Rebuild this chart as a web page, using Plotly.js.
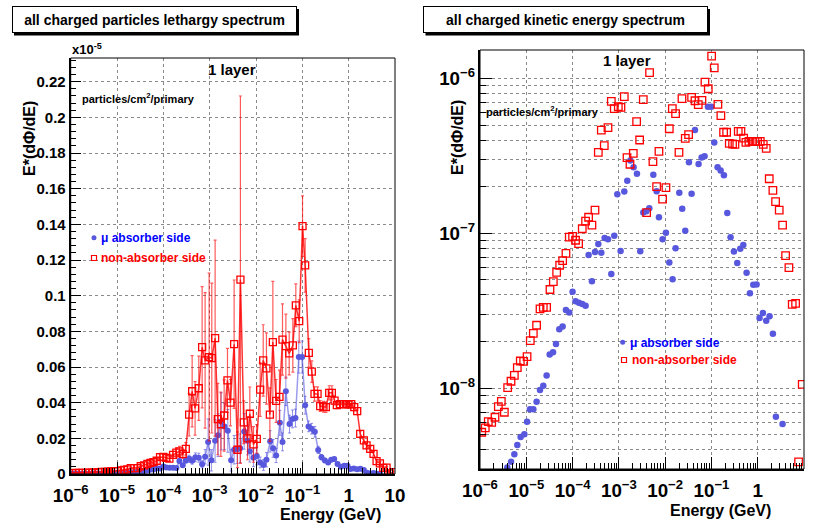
<!DOCTYPE html>
<html><head><meta charset="utf-8">
<script src="https://cdn.plot.ly/plotly-3.0.1.min.js"></script>
<style>html,body{margin:0;padding:0;background:#fff;}#chart{width:813px;height:525px;}</style>
</head><body><div id="chart"></div>
<script>
// ---- data (energy in GeV, flux in particles/cm^2/primary) ----
const redEnergy = [
1.09e-6,1.30e-6,1.51e-6,1.79e-6,2.11e-6,2.49e-6,2.89e-6,3.36e-6,3.96e-6,4.68e-6,
5.52e-6,6.40e-6,7.43e-6,8.77e-6,1.04e-5,1.22e-5,1.42e-5,1.67e-5,1.98e-5,2.33e-5,
2.75e-5,3.25e-5,3.84e-5,4.53e-5,5.26e-5,6.10e-5,7.19e-5,8.49e-5,1.00e-4,1.16e-4,
1.35e-4,1.62e-4,1.91e-4,2.22e-4,2.62e-4,3.05e-4,3.60e-4,4.18e-4,4.84e-4,5.82e-4,
6.87e-4,7.96e-4,9.73e-4,1.11e-3,1.31e-3,1.50e-3,1.74e-3,2.05e-3,2.42e-3,2.81e-3,
3.37e-3,3.98e-3,4.61e-3,5.45e-3,6.55e-3,7.35e-3,8.81e-3,1.04e-2,1.23e-2,1.43e-2,
1.68e-2,1.99e-2,2.31e-2,2.72e-2,3.21e-2,3.73e-2,4.41e-2,5.20e-2,6.24e-2,7.24e-2,
8.55e-2,0.101,0.115,0.138,0.160,0.183,0.213,0.243,0.286,0.322,
0.380,0.434,0.496,0.556,0.646,0.762,0.871,0.993,1.135,1.318,
1.528,1.774,2.128,2.432,2.917,3.443,4.000,4.721,5.572,6.577,
7.638,9.162];
const redFlux = [
5.20e-9,5.55e-9,6.09e-9,6.03e-9,6.50e-9,7.62e-9,8.24e-9,7.00e-9,1.01e-8,1.11e-8,
1.21e-8,1.36e-8,1.50e-8,1.49e-8,1.60e-8,2.03e-8,2.26e-8,2.55e-8,3.25e-8,3.33e-8,
3.33e-8,4.34e-8,4.88e-8,5.60e-8,6.22e-8,6.67e-8,7.43e-8,9.46e-8,9.55e-8,9.02e-8,
8.57e-8,1.07e-7,1.20e-7,1.27e-7,1.13e-7,1.41e-7,3.33e-7,4.64e-7,3.68e-7,4.81e-7,
7.11e-7,6.37e-7,6.56e-7,6.50e-7,7.62e-7,3.08e-7,2.79e-7,3.28e-7,5.25e-7,4.00e-7,
7.28e-7,1.36e-7,1.09e-6,2.90e-7,2.00e-7,3.38e-7,1.66e-7,1.97e-7,4.73e-7,6.37e-7,
5.92e-7,3.33e-7,7.40e-7,4.10e-7,4.33e-7,7.54e-7,7.17e-7,6.76e-7,7.21e-7,9.46e-7,
8.57e-7,1.39e-6,1.17e-6,6.79e-7,5.74e-7,4.49e-7,4.49e-7,3.81e-7,3.77e-7,3.75e-7,
4.55e-7,4.55e-7,4.12e-7,3.86e-7,3.92e-7,3.92e-7,3.92e-7,3.90e-7,3.92e-7,3.75e-7,
3.53e-7,2.25e-7,1.89e-7,1.60e-7,1.41e-7,1.13e-7,7.18e-8,6.00e-8,3.48e-8,3.53e-8,
3.35e-9,1.06e-8];
const redErr = [
6e-10,6e-10,7e-10,7e-10,8e-10,9e-10,1.0e-9,1.0e-9,1.3e-9,1.4e-9,
1.6e-9,1.8e-9,2.0e-9,2.0e-9,2.2e-9,2.8e-9,3.0e-9,3.5e-9,4.5e-9,4.5e-9,
5e-9,6e-9,7e-9,8e-9,9e-9,1.0e-8,1.1e-8,1.5e-8,1.6e-8,1.5e-8,
1.5e-8,2.0e-8,2.5e-8,2.8e-8,2.5e-8,3.5e-8,1.2e-7,2.0e-7,1.5e-7,1.8e-7,
3.4e-7,3.8e-7,4.7e-7,4.2e-7,5.5e-7,2.0e-7,1.8e-7,2.0e-7,1.8e-7,1.3e-7,
3.6e-7,1.0e-7,1.03e-6,1.2e-7,1.2e-7,1.5e-7,1.0e-7,8e-8,1.5e-7,2.0e-7,
2.0e-7,1.5e-7,3.4e-7,1.2e-7,1.5e-7,2.0e-7,1.8e-7,1.2e-7,1.5e-7,1.2e-7,
1.2e-7,1.7e-7,1.5e-7,8e-8,6e-8,4e-8,4e-8,3e-8,3e-8,3e-8,
4e-8,4e-8,2.5e-8,2e-8,2e-8,2e-8,2e-8,2e-8,2e-8,2e-8,
2e-8,1.5e-8,1.5e-8,1.5e-8,1.3e-8,1.2e-8,1e-8,1e-8,8e-9,8e-9,
4e-9,5e-9];

const blueEnergy = [
1.09e-6,1.30e-6,1.51e-6,1.79e-6,2.11e-6,2.49e-6,2.89e-6,3.36e-6,
3.89e-6,4.68e-6,5.52e-6,6.40e-6,7.55e-6,9.08e-6,1.04e-5,1.20e-5,1.42e-5,1.67e-5,
1.98e-5,2.33e-5,2.75e-5,3.20e-5,3.78e-5,4.38e-5,5.16e-5,6.10e-5,7.19e-5,8.49e-5,
1.00e-4,1.16e-4,1.37e-4,1.62e-4,1.91e-4,2.22e-4,2.62e-4,3.05e-4,3.60e-4,4.18e-4,
4.93e-4,5.82e-4,6.87e-4,7.96e-4,9.25e-4,1.09e-3,1.31e-3,1.52e-3,1.77e-3,2.08e-3,
2.46e-3,2.90e-3,3.37e-3,3.92e-3,4.54e-3,5.55e-3,6.55e-3,7.35e-3,8.81e-3,1.04e-2,
1.23e-2,1.45e-2,1.68e-2,2.02e-2,2.34e-2,2.72e-2,3.27e-2,3.73e-2,4.41e-2,5.28e-2,
6.14e-2,7.11e-2,8.39e-2,9.91e-2,0.115,0.136,0.158,0.186,0.220,0.259,
0.306,0.361,0.420,0.488,0.575,0.679,0.802,0.946,1.096,1.294,
1.528,1.803,2.128,2.472,2.917,3.443,4.064,4.80];
const blueFlux = [
1.2e-9,1.3e-9,1.45e-9,1.6e-9,1.8e-9,2.0e-9,2.3e-9,2.7e-9,
3.08e-9,3.35e-9,3.75e-9,4.31e-9,4.85e-9,5.05e-9,6.09e-9,7.32e-9,7.32e-9,8.17e-9,
9.75e-9,1.04e-8,1.21e-8,1.65e-8,1.71e-8,1.93e-8,2.40e-8,2.50e-8,3.20e-8,3.08e-8,
4.19e-8,3.64e-8,3.57e-8,3.50e-8,3.41e-8,7.24e-8,4.90e-8,7.58e-8,8.53e-8,7.50e-8,
9.33e-8,9.14e-8,5.47e-8,9.66e-8,1.79e-7,7.69e-8,1.86e-7,2.18e-7,2.95e-7,2.67e-7,
2.42e-7,7.66e-8,1.36e-7,1.39e-7,1.45e-7,2.39e-7,1.87e-7,1.27e-7,9.14e-8,1.01e-7,
6.47e-8,5.05e-8,8.0e-8,1.83e-7,1.44e-7,1.04e-7,2.87e-7,1.80e-7,4.64e-7,2.80e-7,
3.09e-7,3.14e-7,6.56e-7,6.56e-7,3.86e-7,2.67e-7,2.54e-7,2.37e-7,1.35e-7,9.42e-8,
7.62e-8,6.44e-8,7.96e-8,8.41e-8,5.57e-8,4.10e-8,4.65e-8,4.67e-8,2.84e-8,3.06e-8,
2.73e-8,2.92e-8,2.25e-8,6.56e-9,2.5e-9,5.89e-9,2.0e-9,1.2e-9];
const blueErr = [
2e-10,2e-10,2e-10,2e-10,3e-10,3e-10,3e-10,3e-10,
4e-10,4e-10,5e-10,5e-10,6e-10,6e-10,7e-10,8e-10,8e-10,9e-10,
1.0e-9,1.1e-9,1.3e-9,1.6e-9,1.7e-9,1.9e-9,2.3e-9,2.4e-9,3.0e-9,3.0e-9,
4e-9,4e-9,4e-9,4e-9,4e-9,1.5e-8,1.0e-8,1.5e-8,2.0e-8,2.0e-8,
2.5e-8,2.5e-8,2.0e-8,4e-8,1.3e-7,6e-8,1.2e-7,1.2e-7,1.6e-7,1.3e-7,
1.2e-7,6e-8,8e-8,8e-8,8e-8,1.0e-7,8e-8,6e-8,5e-8,5e-8,
3e-8,3e-8,4e-8,6e-8,5e-8,4e-8,7e-8,5e-8,8e-8,5e-8,
5e-8,5e-8,9e-8,9e-8,5e-8,3e-8,3e-8,3e-8,2e-8,1.5e-8,
1.2e-8,1e-8,1e-8,1e-8,8e-9,6e-9,6e-9,6e-9,4e-9,4e-9,
4e-9,4e-9,3e-9,2e-9,1e-9,2e-9,1e-9,1e-9];

const leftTitle = 'all charged particles lethargy spectrum';
const rightTitle = 'all charged kinetic energy spectrum';
const yTitle = 'E*(d\u03A6/dE)';
const xTitle = 'Energy (GeV)';
const seriesNames = ['\u03BC absorber side', 'non-absorber side'];
const leftScale = 1e5; // left panel drawn in units of 10^-5

// ---- helpers ----
const W = 813, H = 525;
const px = x => x / W, py = y => 1 - y / H;
const FONT = 'Liberation Sans, Arial, Helvetica, sans-serif';
const RED = '#ff0000', BLUE = 'rgb(88,88,222)';
const GRID = '#8a8a8a';
const sc = a => a.map(v => v * leftScale);

const traces = [
  {x: blueEnergy, y: sc(blueFlux), xaxis: 'x', yaxis: 'y', mode: 'lines+markers',
   error_y: {type: 'data', array: sc(blueErr), visible: true, color: 'rgba(88,88,222,0.65)', thickness: 1, width: 1.5},
   line: {color: 'rgba(88,88,222,0.6)', width: 1.5},
   marker: {symbol: 'circle', size: 6, color: BLUE}, showlegend: false, hoverinfo: 'skip'},
  {x: redEnergy, y: sc(redFlux), xaxis: 'x', yaxis: 'y', mode: 'lines+markers',
   error_y: {type: 'data', array: sc(redErr), visible: true, color: 'rgba(255,0,0,0.65)', thickness: 1.2, width: 1.5},
   line: {color: 'rgba(255,0,0,0.8)', width: 1.5},
   marker: {symbol: 'square-open', size: 7, color: RED, line: {width: 1.3}}, showlegend: false, hoverinfo: 'skip'},
  {x: blueEnergy, y: blueFlux, xaxis: 'x2', yaxis: 'y2', mode: 'markers',
   marker: {symbol: 'circle', size: 6.5, color: BLUE}, showlegend: false, hoverinfo: 'skip'},
  {x: redEnergy, y: redFlux, xaxis: 'x2', yaxis: 'y2', mode: 'markers',
   marker: {symbol: 'square-open', size: 7.5, color: RED, line: {width: 1.3}}, showlegend: false, hoverinfo: 'skip'}
];

const tickfont = {family: FONT, size: 15, color: '#000', weight: 'bold'};
function xAxis(domain, anchor) {
  return {domain, anchor, type: 'log', range: [-6, 1], dtick: 1, exponentformat: 'power',
    showgrid: true, gridcolor: GRID, griddash: 'dot', gridwidth: 1,
    ticks: 'inside', ticklen: 12, tickwidth: 1, tickcolor: '#000',
    minor: {ticks: 'inside', ticklen: 6, tickwidth: 1, tickcolor: '#000', showgrid: false},
    showline: true, linecolor: '#000', linewidth: 2, zeroline: false,
    tickfont, ticklabelstandoff: 4, fixedrange: true};
}
const layout = {
  width: W, height: H, margin: {l: 0, r: 0, t: 0, b: 0},
  paper_bgcolor: '#fff', plot_bgcolor: '#fff', showlegend: false,
  xaxis: xAxis([px(70.7), px(395)], 'y'),
  yaxis: {domain: [py(474), py(58)], anchor: 'x', range: [0, 0.2333], dtick: 0.02, tick0: 0,
    showgrid: true, gridcolor: GRID, griddash: 'dot', gridwidth: 1,
    ticks: 'inside', ticklen: 10, tickwidth: 1, tickcolor: '#000',
    minor: {dtick: 0.004, ticks: 'inside', ticklen: 5, tickwidth: 1, tickcolor: '#000', showgrid: false},
    showline: true, linecolor: '#000', linewidth: 2, zeroline: false, tickfont, fixedrange: true},
  xaxis2: xAxis([px(480), px(804)], 'y2'),
  yaxis2: {domain: [py(469), py(50)], anchor: 'x2', type: 'log', range: [-8.521, -5.817], dtick: 1,
    exponentformat: 'power', showgrid: true, gridcolor: GRID, griddash: 'dot', gridwidth: 1,
    ticks: 'inside', ticklen: 12, tickwidth: 1, tickcolor: '#000',
    minor: {ticks: 'inside', ticklen: 6, tickwidth: 1, tickcolor: '#000', showgrid: true, gridcolor: GRID, griddash: 'dot', gridwidth: 1},
    showline: true, linecolor: '#000', linewidth: 2, zeroline: false, tickfont, fixedrange: true},
  shapes: [
    {type: 'rect', xref: 'x domain', yref: 'y domain', x0: 0, x1: 1, y0: 0, y1: 1, line: {color: '#000', width: 1}},
    {type: 'rect', xref: 'x2 domain', yref: 'y2 domain', x0: 0, x1: 1, y0: 0, y1: 1, line: {color: '#000', width: 1}},
    // title box shadows
    {type: 'rect', xref: 'paper', yref: 'paper', x0: px(14), x1: px(299), y0: py(35.5), y1: py(9), fillcolor: '#000', line: {width: 0}, layer: 'below'},
    {type: 'rect', xref: 'paper', yref: 'paper', x0: px(425.5), x1: px(710), y0: py(35.5), y1: py(9), fillcolor: '#000', line: {width: 0}, layer: 'below'},
    // legend markers
    {type: 'circle', xref: 'paper', yref: 'paper', x0: px(91.5), x1: px(96.5), y0: py(240.2), y1: py(235.2), fillcolor: BLUE, line: {color: BLUE, width: 0}},
    {type: 'rect', xref: 'paper', yref: 'paper', x0: px(91.5), x1: px(96.5), y0: py(260.5), y1: py(255.5), line: {color: RED, width: 1.2}},
    {type: 'circle', xref: 'paper', yref: 'paper', x0: px(620.2), x1: px(625.2), y0: py(344.8), y1: py(339.8), fillcolor: BLUE, line: {color: BLUE, width: 0}},
    {type: 'rect', xref: 'paper', yref: 'paper', x0: px(621.5), x1: px(626.5), y0: py(362.5), y1: py(357.5), line: {color: RED, width: 1.2}}
  ],
  annotations: [
    {text: leftTitle, xref: 'paper', yref: 'paper', x: px(154.5), y: py(20), xanchor: 'center', yanchor: 'middle',
     showarrow: false, font: {family: FONT, size: 14, color: '#000', weight: 'bold'},
     bgcolor: '#fff', bordercolor: '#000', borderwidth: 1, borderpad: 0, width: 283, height: 25},
    {text: rightTitle, xref: 'paper', yref: 'paper', x: px(565.5), y: py(20), xanchor: 'center', yanchor: 'middle',
     showarrow: false, font: {family: FONT, size: 14, color: '#000', weight: 'bold'},
     bgcolor: '#fff', bordercolor: '#000', borderwidth: 1, borderpad: 0, width: 283, height: 25},
    {text: '1 layer', xref: 'paper', yref: 'paper', x: px(232), y: py(70), xanchor: 'center', yanchor: 'middle', showarrow: false, font: {family: FONT, size: 15, color: '#000', weight: 'bold'}},
    {text: '1 layer', xref: 'paper', yref: 'paper', x: px(627), y: py(60), xanchor: 'center', yanchor: 'middle', showarrow: false, font: {family: FONT, size: 15, color: '#000', weight: 'bold'}},
    {text: 'particles/cm<sup>2</sup>/primary', xref: 'paper', yref: 'paper', x: px(80), y: py(98), xanchor: 'left', yanchor: 'middle', showarrow: false, font: {family: FONT, size: 11, color: '#000', weight: 'bold'}},
    {text: 'particles/cm<sup>2</sup>/primary', xref: 'paper', yref: 'paper', x: px(484), y: py(111), xanchor: 'left', yanchor: 'middle', showarrow: false, font: {family: FONT, size: 11, color: '#000', weight: 'bold'}},
    {text: 'x10<sup>-5</sup>', xref: 'paper', yref: 'paper', x: px(70), y: py(49), xanchor: 'left', yanchor: 'middle', showarrow: false, font: {family: FONT, size: 13, color: '#000', weight: 'bold'}},
    {text: yTitle, xref: 'paper', yref: 'paper', x: px(29), y: py(139), xanchor: 'center', yanchor: 'middle', textangle: -90, showarrow: false, font: {family: FONT, size: 16, color: '#000', weight: 'bold'}},
    {text: yTitle, xref: 'paper', yref: 'paper', x: px(457), y: py(138), xanchor: 'center', yanchor: 'middle', textangle: -90, showarrow: false, font: {family: FONT, size: 16, color: '#000', weight: 'bold'}},
    {text: xTitle, xref: 'paper', yref: 'paper', x: px(383), y: py(514), xanchor: 'right', yanchor: 'middle', showarrow: false, font: {family: FONT, size: 16, color: '#000', weight: 'bold'}},
    {text: xTitle, xref: 'paper', yref: 'paper', x: px(773), y: py(510), xanchor: 'right', yanchor: 'middle', showarrow: false, font: {family: FONT, size: 16, color: '#000', weight: 'bold'}},
    {text: seriesNames[0], xref: 'paper', yref: 'paper', x: px(99), y: py(238), xanchor: 'left', yanchor: 'middle', showarrow: false, font: {family: FONT, size: 12, color: '#0000ff', weight: 'bold'}},
    {text: seriesNames[1], xref: 'paper', yref: 'paper', x: px(99), y: py(258), xanchor: 'left', yanchor: 'middle', showarrow: false, font: {family: FONT, size: 12, color: '#ff0000', weight: 'bold'}},
    {text: seriesNames[0], xref: 'paper', yref: 'paper', x: px(628), y: py(342.5), xanchor: 'left', yanchor: 'middle', showarrow: false, font: {family: FONT, size: 12, color: '#0000ff', weight: 'bold'}},
    {text: seriesNames[1], xref: 'paper', yref: 'paper', x: px(630), y: py(360), xanchor: 'left', yanchor: 'middle', showarrow: false, font: {family: FONT, size: 12, color: '#ff0000', weight: 'bold'}}
  ]
};
Plotly.newPlot('chart', traces, layout, {staticPlot: true, displayModeBar: false});
</script></body></html>
